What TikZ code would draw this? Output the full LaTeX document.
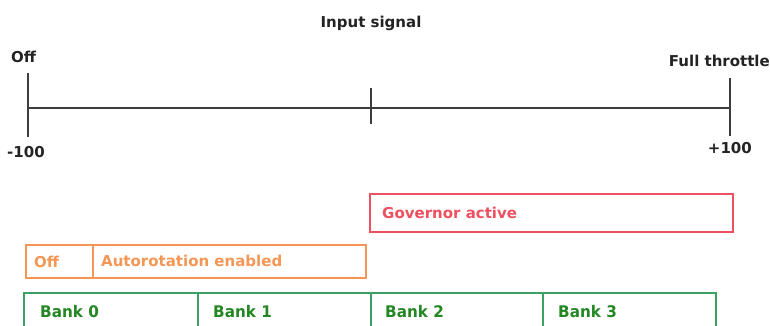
\documentclass[tikz,border=0pt]{standalone}
\usepackage{fontspec}
\setmainfont{DejaVu Sans}
\definecolor{axiscol}{RGB}{60,60,60}
\definecolor{txtcol}{RGB}{35,35,35}
\definecolor{orangecol}{RGB}{245,150,85}
\definecolor{redcol}{RGB}{238,80,95}
\definecolor{greenbd}{RGB}{60,160,100}
\definecolor{greentx}{RGB}{35,135,35}
\tikzset{
  lbl/.style={font=\bfseries\fontsize{15}{17}\selectfont, text=txtcol, inner sep=0pt},
  boxlbl/.style={font=\bfseries\fontsize{15}{17}\selectfont, inner sep=0pt, anchor=west},
  banklbl/.style={font=\bfseries\fontsize{16}{18}\selectfont, inner sep=0pt, anchor=west, text=greentx, xscale=0.95},
  axis/.style={draw=axiscol, line width=1.4pt},
  boxline/.style={line width=1.5pt},
}
\begin{document}
\begin{tikzpicture}[x=1pt,y=-1pt]
\useasboundingbox (0,0) rectangle (770,326);
\clip (0,0) rectangle (770,326);
% axis
\coordinate (lt) at (28,73);
\coordinate (lb) at (28,137);
\coordinate (mt) at (371,88);
\coordinate (mb) at (371,124);
\coordinate (rt) at (730,78);
\coordinate (rb) at (730,136);
\coordinate (l) at (28,108);
\coordinate (r) at (730,108);
\draw[axis] (lt) -- (lb);
\draw[axis] (mt) -- (mb);
\draw[axis] (rt) -- (rb);
\draw[axis] (l) -- (r);
% labels
\node[lbl] (title) at (371,23) {Input signal};
\node[lbl, anchor=west] (off) at (11,57) {Off};
\node[lbl, anchor=west] (m100) at (7,152) {-100};
\node[lbl, anchor=east] (full) at (770,61) {Full throttle};
\node[lbl, anchor=east] (p100) at (752,148) {+100};
% governor
\draw[draw=redcol, boxline] (370,194) rectangle (733,232);
\node[boxlbl, text=redcol] (gov) at (382,213) {Governor active};
% autorotation
\draw[draw=orangecol, boxline] (26,245) rectangle (366,278);
\draw[draw=orangecol, boxline] (93,245) -- (93,278);
\node[boxlbl, text=orangecol] (aoff) at (34,262) {Off};
\node[boxlbl, text=orangecol] (auto) at (101,261) {Autorotation enabled};
% banks
\draw[draw=greenbd, boxline] (24,293) rectangle (716,340);
\foreach \xx in {198,371,543} \draw[draw=greenbd, boxline] (\xx,293) -- (\xx,340);
\node[banklbl] (b0) at (40,312) {Bank 0};
\node[banklbl] (b1) at (213,312) {Bank 1};
\node[banklbl] (b2) at (385,312) {Bank 2};
\node[banklbl] (b3) at (558,312) {Bank 3};
\end{tikzpicture}
\end{document}
